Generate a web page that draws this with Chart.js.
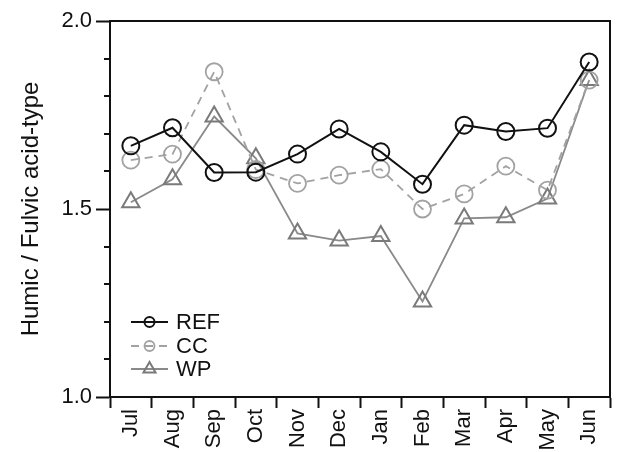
<!DOCTYPE html>
<html>
<head>
<meta charset="utf-8">
<script src="https://cdn.jsdelivr.net/npm/chart.js@4.4.1/dist/chart.umd.min.js"></script>
<style>
html, body { margin: 0; padding: 0; background: #fff; overflow: hidden; }
</style>
</head>
<body>
<canvas id="myChart" width="622" height="452"></canvas>
<script>
'use strict';
const months = ['Jul', 'Aug', 'Sep', 'Oct', 'Nov', 'Dec', 'Jan', 'Feb', 'Mar', 'Apr', 'May', 'Jun'];
const refValues = [1.668, 1.716, 1.597, 1.598, 1.646, 1.713, 1.652, 1.566, 1.723, 1.706, 1.715, 1.891];
const ccValues  = [1.630, 1.646, 1.865, 1.605, 1.568, 1.590, 1.606, 1.500, 1.540, 1.614, 1.550, 1.843];
const wpValues  = [1.518, 1.579, 1.746, 1.635, 1.435, 1.416, 1.428, 1.254, 1.475, 1.478, 1.528, 1.843];
const yTicks = [1.0, 1.5, 2.0];

const FONT = '"Liberation Sans", Arial, sans-serif';
const INK = '#111';

// frame on top / right, short minor ticks on the y axis
const framePlugin = {
    id: 'frame',
    afterDraw(chart) {
        const ctx = chart.ctx;
        const a = chart.chartArea;
        const y = chart.scales.y;
        ctx.save();
        ctx.strokeStyle = INK;
        ctx.lineWidth = 2;
        ctx.strokeRect(a.left, a.top, a.right - a.left, a.bottom - a.top);
        ctx.beginPath();
        for (let i = 1; i < 10; i++) {
            const v = y.min + i * (y.max - y.min) / 10;
            if (i === 5) continue;
            const py = Math.round(y.getPixelForValue(v));
            ctx.moveTo(a.left - 6, py);
            ctx.lineTo(a.left, py);
        }
        ctx.stroke();
        ctx.restore();
    }
};

// legend with line + marker, bottom-left inside the plot
const legendPlugin = {
    id: 'lineLegend',
    afterDraw(chart) {
        const ctx = chart.ctx;
        const a = chart.chartArea;
        const x0 = a.left + 21, x1 = a.left + 58;
        const rows = [a.bottom - 75, a.bottom - 51, a.bottom - 28];
        ctx.save();
        chart.data.datasets.forEach((ds, i) => {
            const yy = rows[i];
            ctx.strokeStyle = ds.borderColor;
            ctx.lineWidth = ds.borderWidth;
            ctx.setLineDash(ds.borderDash || []);
            ctx.beginPath();
            ctx.moveTo(x0, yy);
            ctx.lineTo(x1, yy);
            ctx.stroke();
            ctx.setLineDash([]);
            ctx.strokeStyle = ds.pointBorderColor;
            ctx.fillStyle = 'rgba(0,0,0,0)';
            ctx.lineWidth = ds.pointBorderWidth;
            Chart.helpers.drawPoint(ctx, {
                pointStyle: ds.pointStyle,
                radius: ds.legendRadius,
                borderWidth: ds.pointBorderWidth
            }, (x0 + x1) / 2, yy);
            ctx.fillStyle = INK;
            ctx.font = '22px ' + FONT;
            ctx.textBaseline = 'middle';
            ctx.fillText(ds.label, x1 + 8, yy + 1);
        });
        ctx.restore();
    }
};

const data = {
    labels: months,
    datasets: [
        {
            label: 'REF',
            data: refValues,
            borderColor: '#111',
            borderWidth: 2,
            pointStyle: 'circle',
            pointRadius: 8.5,
            legendRadius: 5,
            pointBorderWidth: 2,
            pointBorderColor: '#111',
            pointBackgroundColor: 'rgba(0,0,0,0)',
            fill: false,
            tension: 0
        },
        {
            label: 'CC',
            data: ccValues,
            borderColor: '#a2a2a2',
            borderWidth: 1.8,
            borderDash: [8, 6],
            pointStyle: 'circle',
            pointRadius: 8.5,
            legendRadius: 5,
            pointBorderWidth: 1.8,
            pointBorderColor: '#a2a2a2',
            pointBackgroundColor: 'rgba(0,0,0,0)',
            fill: false,
            tension: 0
        },
        {
            label: 'WP',
            data: wpValues,
            borderColor: '#8a8a8a',
            borderWidth: 1.8,
            pointStyle: 'triangle',
            pointRadius: 10,
            legendRadius: 7,
            pointBorderWidth: 2,
            pointBorderColor: '#7a7a7a',
            pointBackgroundColor: 'rgba(0,0,0,0)',
            fill: false,
            tension: 0
        }
    ]
};

const ctx = document.getElementById('myChart').getContext('2d');
const myChart = new Chart(ctx, {
    type: 'line',
    data: data,
    plugins: [framePlugin, legendPlugin],
    options: {
        responsive: false,
        animation: false,
        layout: { padding: { top: 21, right: 5, left: 0, bottom: 0 } },
        plugins: {
            legend: { display: false },
            tooltip: { enabled: false }
        },
        scales: {
            x: {
                offset: true,
                afterFit(scale) { scale.height = 55; },
                border: { display: true, color: INK, width: 2 },
                grid: {
                    offset: true,
                    drawOnChartArea: false,
                    drawTicks: true,
                    tickLength: 11,
                    tickWidth: 2,
                    tickColor: INK
                },
                ticks: {
                    autoSkip: false,
                    minRotation: 90,
                    maxRotation: 90,
                    padding: 1,
                    color: INK,
                    font: { family: FONT, size: 22 }
                }
            },
            y: {
                min: 1.0,
                max: 2.0,
                afterFit(scale) { scale.width = 110; },
                afterBuildTicks(scale) { scale.ticks = yTicks.map(v => ({ value: v })); },
                border: { display: true, color: INK, width: 2 },
                grid: {
                    drawOnChartArea: false,
                    drawTicks: true,
                    tickLength: 14,
                    tickWidth: 2,
                    tickColor: INK
                },
                ticks: {
                    padding: 4,
                    color: INK,
                    font: { family: FONT, size: 22 },
                    callback: v => Number(v).toFixed(1)
                },
                title: {
                    display: true,
                    text: 'Humic / Fulvic acid-type',
                    color: INK,
                    font: { family: FONT, size: 24 },
                    padding: { top: 17, bottom: 0 }
                }
            }
        }
    }
});
</script>
</body>
</html>
